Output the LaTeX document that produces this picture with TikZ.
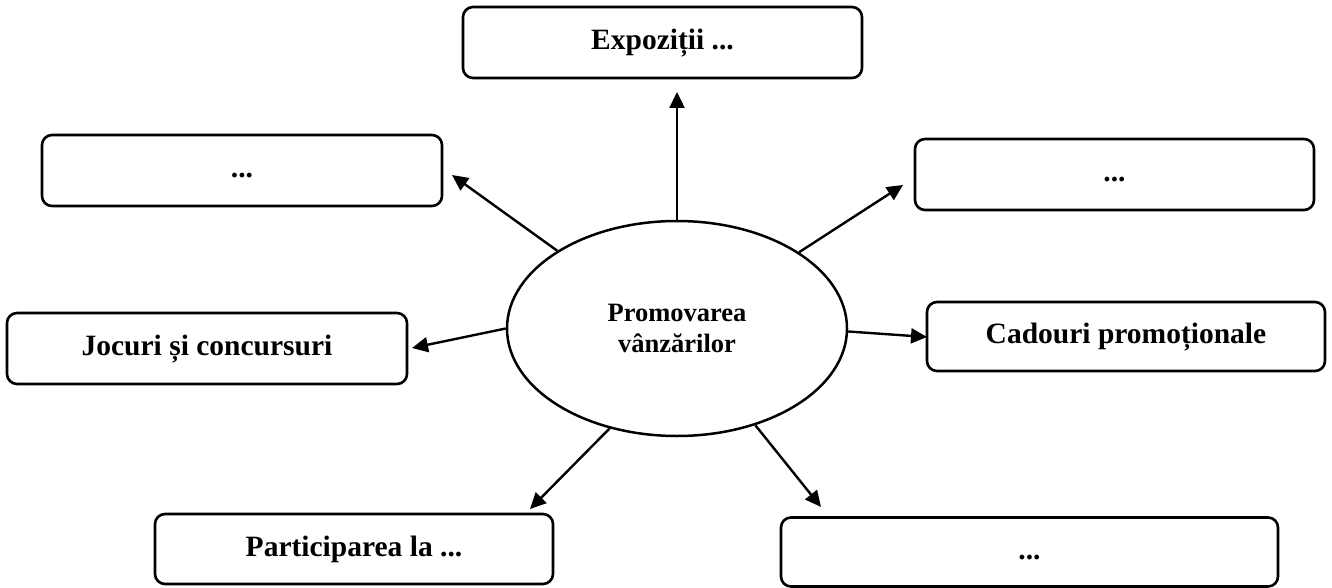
\documentclass[tikz,border=0pt]{standalone}
\usepackage{fontspec}
\setmainfont{Liberation Serif}
\usetikzlibrary{shapes.geometric,arrows.meta}
\tikzset{
  box/.style={draw, line width=2.6pt, rounded corners=10pt, inner sep=0pt,
    font=\fontsize{29.5}{32}\selectfont\bfseries, text height=20pt, text depth=6pt},
  hub/.style={draw, ellipse, line width=2.5pt, inner sep=0pt,
    minimum width=340pt, minimum height=215pt, align=center,
    font=\fontsize{26.5}{30.5}\selectfont\bfseries},
  arr/.style={line width=2.4pt, -{Triangle[length=16pt,width=15pt]}}
}
\begin{document}
\begin{tikzpicture}[x=1pt,y=-1pt]
\useasboundingbox (0,0) rectangle (1332,588);
\node[hub] (e) at (677,328.5) {Promovarea\\vânzărilor};
\node[box, minimum width=399pt, minimum height=71pt] (ex) at (662.5,42.5) {Expoziții ...};
\node[box, minimum width=400pt, minimum height=71pt] (tl) at (242,170.5) {...};
\node[box, minimum width=399pt, minimum height=71pt] (tr) at (1114.5,174.5) {...};
\node[box, minimum width=400pt, minimum height=71pt] (jc) at (207,348.5) {Jocuri și concursuri};
\node[box, minimum width=398pt, minimum height=69pt] (cd) at (1126,336.5) {Cadouri promoționale};
\node[box, minimum width=398pt, minimum height=70pt] (pl) at (354,549) {Participarea la ...};
\node[box, minimum width=497pt, minimum height=69pt] (br) at (1029.5,552) {...};
\coordinate (tex) at (677,92);
\coordinate (ttl) at (452,175);
\coordinate (ttr) at (903,185);
\coordinate (tjc) at (412,348);
\coordinate (tcd) at (927,337);
\coordinate (tpl) at (530,509);
\coordinate (tbr) at (821,507);
\draw[arr] (e.90) -- (tex);
\draw[arr] (e.147.8) -- (ttl);
\draw[arr] (e.32.3) -- (ttr);
\draw[arr] (e.180) -- (tjc);
\draw[arr] (e.359) -- (tcd);
\draw[arr] (e.236.7) -- (tpl);
\draw[arr] (e.309.5) -- (tbr);
\end{tikzpicture}
\end{document}
